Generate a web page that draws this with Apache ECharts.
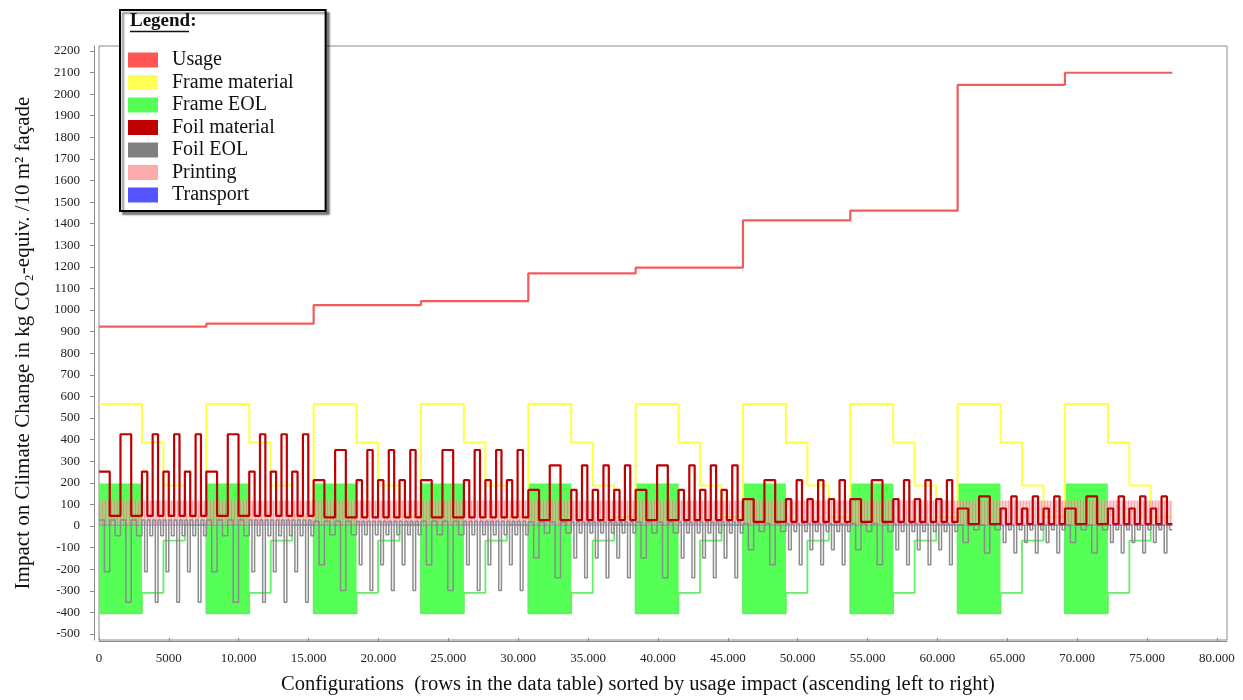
<!DOCTYPE html>
<html><head><meta charset="utf-8">
<script src="https://cdn.jsdelivr.net/npm/echarts@6/dist/echarts.min.js"></script>
<style>html,body{margin:0;padding:0;background:#fff}#c{width:1243px;height:700px}</style>
</head><body><div id="c"></div>
<script>
// ---------- data ----------
const BLOCK_ROWS = 7680;                 // rows per usage block
const seriesNames = ['Usage', 'Frame material', 'Frame EOL', 'Foil material', 'Foil EOL', 'Printing', 'Transport'];
const blockUsage = [923, 937, 1023, 1041, 1170, 1197, 1415, 1461, 2043, 2099];
// five equal sub-blocks per block
const frameMaterialLevels = [565, 565, 387, 188, 42];
const frameEolLevels = [[-405, 197], [-405, 197], -310, -68, 5];   // [low, high] = dense alternation
// foil material per block: pattern a, b, c, b
const foilMatA = [252, 252, 212, 212, 167, 167, 124, 124, 81, 81];
const foilMatB = [47, 47, 40, 40, 27, 27, 19, 19, 9, 9];
const foilMatC = [425, 425, 352, 352, 281, 281, 212, 212, 137, 137];
// foil EOL per block: positive level, then negative for a, b, c
const foilEolPos = [28, 28, 22, 22, 18, 18, 12, 12, 5, 5];
const foilEolA = [-212, -212, -179, -179, -148, -148, -110, -110, -76, -76];
const foilEolB = [-45, -45, -40, -40, -32, -32, -25, -25, -17, -17];
const foilEolC = [-353, -353, -299, -299, -240, -240, -180, -180, -125, -125];
const printingBand = [2, 118];
const transportLevels = [4, 4, 4, 4, 4, 4, 4, 4, 4, 4];
const xTickValues = [0, 5000, 10000, 15000, 20000, 25000, 30000, 35000, 40000, 45000, 50000, 55000, 60000, 65000, 70000, 75000, 80000];
const yTickValues = [-500, -400, -300, -200, -100, 0, 100, 200, 300, 400, 500, 600, 700, 800, 900, 1000, 1100, 1200, 1300, 1400, 1500, 1600, 1700, 1800, 1900, 2000, 2100, 2200];

// ---------- build step data ----------
const nBlocks = blockUsage.length;
const totalRows = nBlocks * BLOCK_ROWS;
function toSteps(segs) { // segs: [[length, value], ...]
  const pts = []; let x = 0;
  segs.forEach(s => { pts.push([x, s[1]]); x += s[0]; });
  pts.push([x, segs[segs.length - 1][1]]);
  return pts;
}
const usageSegs = blockUsage.map(v => [BLOCK_ROWS, v]);
const subLen = BLOCK_ROWS / frameMaterialLevels.length;
const fmSegs = [], feSegs = [], feFill = [], foilSegs = [], eolSegs = [], trSegs = [];
for (let b = 0; b < nBlocks; b++) {
  frameMaterialLevels.forEach(v => fmSegs.push([subLen, v]));
  frameEolLevels.forEach((v, s) => {
    if (Array.isArray(v)) {
      feSegs.push([subLen, v[0]]);
      const x0 = b * BLOCK_ROWS + s * subLen;
      const last = feFill[feFill.length - 1];
      if (last && last[1] === x0 && last[2] === v[0] && last[3] === v[1]) last[1] = x0 + subLen;
      else feFill.push([x0, x0 + subLen, v[0], v[1]]);
    } else feSegs.push([subLen, v]);
  });
  const mat = [foilMatA[b], foilMatB[b], foilMatC[b], foilMatB[b]];
  const neg = [foilEolA[b], foilEolB[b], foilEolC[b], foilEolB[b]];
  const coarse = BLOCK_ROWS * 0.4 / 4, fine = BLOCK_ROWS * 0.6 / 12;
  for (let i = 0; i < 4; i++) {
    foilSegs.push([coarse, mat[i]]);
    eolSegs.push([coarse / 2, foilEolPos[b]], [coarse / 2, neg[i]]);
  }
  for (let r = 0; r < 3; r++) for (let i = 0; i < 4; i++) {
    foilSegs.push([fine, mat[i]]);
    eolSegs.push([fine / 2, foilEolPos[b]], [fine / 2, neg[i]]);
  }
  trSegs.push([BLOCK_ROWS, transportLevels[b]]);
}
const printingData = [[0, totalRows, printingBand[0], printingBand[1]]];

// stripe pattern for printing band
const pc = document.createElement('canvas'); pc.width = 3; pc.height = 4;
const pctx = pc.getContext('2d');
pctx.fillStyle = 'rgba(240,115,130,0.62)'; pctx.fillRect(0, 0, 1, 4);
pctx.fillStyle = 'rgba(255,160,170,0.5)'; pctx.fillRect(1, 0, 2, 4);

function rectItem(fill) {
  return function (params, api) {
    const p0 = api.coord([api.value(0), api.value(3)]);
    const p1 = api.coord([api.value(1), api.value(2)]);
    return { type: 'rect', shape: { x: p0[0], y: p0[1], width: p1[0] - p0[0], height: p1[1] - p0[1] }, style: { fill: fill } };
  };
}
function stepLine(name, data, color, width, legendColor, z) {
  return { name, type: 'line', step: 'end', data, symbol: 'none', silent: true, z: z,
    itemStyle: { color: legendColor || color }, lineStyle: { color, width } };
}

const FONT = '"Liberation Serif", "Times New Roman", serif';
const chart = echarts.init(document.getElementById('c'), null, { renderer: 'canvas' });
chart.setOption({
  animation: false,
  backgroundColor: '#fff',
  grid: { left: 99, top: 46, width: 1128, height: 595, show: true, borderColor: '#8a8a8a', borderWidth: 1 },
  xAxis: {
    type: 'value', min: 0, max: 80716, offset: 1,
    axisLine: { show: true, onZero: false, lineStyle: { color: '#8a8a8a' } },
    axisTick: { show: true, inside: true, length: 3, customValues: xTickValues, lineStyle: { color: '#8a8a8a' } },
    axisLabel: { customValues: xTickValues, margin: 11, fontFamily: FONT, fontSize: 13, color: '#222',
      formatter: v => v < 10000 ? String(v) : (v / 1000) + '.000' },
    splitLine: { show: false },
    name: 'Configurations  (rows in the data table) sorted by usage impact (ascending left to right)',
    nameLocation: 'middle', nameGap: 33,
    nameTextStyle: { fontFamily: FONT, fontSize: 20.5, color: '#111', padding: [0, 50, 0, 0] }
  },
  yAxis: {
    type: 'value', min: -528, max: 2223, offset: 5,
    axisLine: { show: true, onZero: false, lineStyle: { color: '#8a8a8a' } },
    axisTick: { show: true, length: 4, customValues: yTickValues, lineStyle: { color: '#8a8a8a' } },
    axisLabel: { customValues: yTickValues, margin: 14, fontFamily: FONT, fontSize: 13, color: '#222',
      formatter: v => String(v) },
    splitLine: { show: false },
    name: 'Impact on Climate Change in kg CO₂-equiv. /10 m² façade',
    nameLocation: 'middle', nameGap: 60,
    nameTextStyle: { fontFamily: FONT, fontSize: 21, color: '#111' }
  },
  legend: {
    data: seriesNames, orient: 'vertical', left: 120, top: 10, icon: 'rect',
    itemWidth: 30, itemHeight: 15, itemGap: 2.5, selectedMode: false,
    padding: [40, 32, 6, 8], backgroundColor: '#fff', borderColor: '#000', borderWidth: 2,
    shadowColor: 'rgba(0,0,0,0.45)', shadowBlur: 2, shadowOffsetX: 3, shadowOffsetY: 3,
    itemStyle: { borderWidth: 0 },
    textStyle: { fontFamily: FONT, fontSize: 20, color: '#111', padding: [0, 0, 0, 9] }
  },
  graphic: [
    { type: 'text', left: 130, top: 12, z: 100, style: { text: 'Legend:', font: 'bold 19px ' + FONT, fill: '#111' } },
    { type: 'line', z: 100, shape: { x1: 130, y1: 31.5, x2: 189, y2: 31.5 }, style: { stroke: '#111', lineWidth: 1.3 } }
  ],
  series: [
    { name: 'Frame EOL', type: 'custom', data: feFill, encode: { x: [0, 1], y: [2, 3] }, silent: true, z: 1,
      itemStyle: { color: '#55ff55' }, renderItem: rectItem('#55ff55') },
    stepLine('Frame EOL', toSteps(feSegs), '#66ee66', 1.8, '#55ff55', 2),
    stepLine('Frame material', toSteps(fmSegs), '#ffff44', 2, '#ffff55', 2),
    { name: 'Printing', type: 'custom', data: printingData, encode: { x: [0, 1], y: [2, 3] }, silent: true, z: 3,
      itemStyle: { color: '#ffaaaa' }, renderItem: rectItem({ image: pc, repeat: 'repeat' }) },
    stepLine('Foil EOL', toSteps(eolSegs), '#8c8c8c', 1.5, '#808080', 4),
    stepLine('Foil material', toSteps(foilSegs), '#c00000', 2.2, '#c00000', 5),
    stepLine('Transport', toSteps(trSegs), 'rgba(90,90,255,0.45)', 1, '#5555ff', 5),
    stepLine('Usage', toSteps(usageSegs), '#f25c5c', 2.2, '#ff5555', 6)
  ]
});
</script>
</body></html>
